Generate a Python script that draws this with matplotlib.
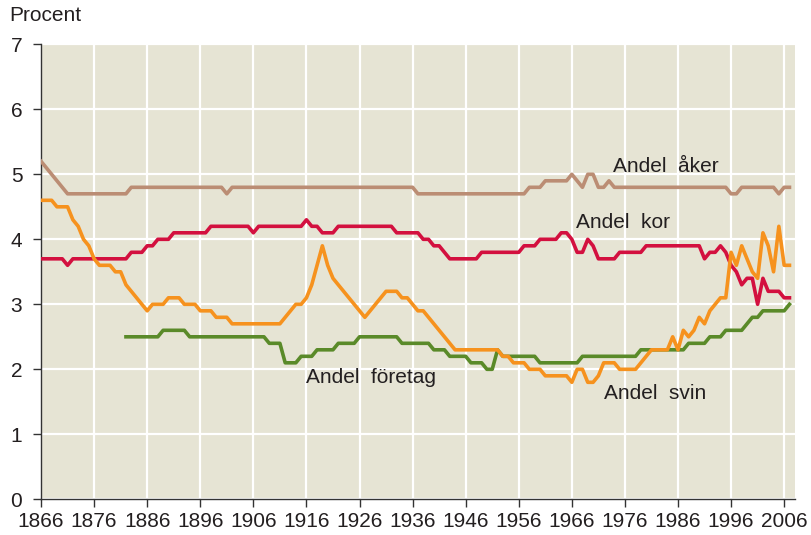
import numpy as np
import matplotlib
matplotlib.use("Agg")
import matplotlib.pyplot as plt

plt.rcParams['font.family'] = ['Liberation Sans', 'DejaVu Sans']

# yearly values, 1866-2007
years = np.arange(1866, 2008)

andel_aker = [
    5.2, 5.1, 5.0, 4.9, 4.8, 4.7, 4.7, 4.7, 4.7, 4.7,
    4.7, 4.7, 4.7, 4.7, 4.7, 4.7, 4.7, 4.8, 4.8, 4.8,
    4.8, 4.8, 4.8, 4.8, 4.8, 4.8, 4.8, 4.8, 4.8, 4.8,
    4.8, 4.8, 4.8, 4.8, 4.8, 4.7, 4.8, 4.8, 4.8, 4.8,
    4.8, 4.8, 4.8, 4.8, 4.8, 4.8, 4.8, 4.8, 4.8, 4.8,
    4.8, 4.8, 4.8, 4.8, 4.8, 4.8, 4.8, 4.8, 4.8, 4.8,
    4.8, 4.8, 4.8, 4.8, 4.8, 4.8, 4.8, 4.8, 4.8, 4.8,
    4.8, 4.7, 4.7, 4.7, 4.7, 4.7, 4.7, 4.7, 4.7, 4.7,
    4.7, 4.7, 4.7, 4.7, 4.7, 4.7, 4.7, 4.7, 4.7, 4.7,
    4.7, 4.7, 4.8, 4.8, 4.8, 4.9, 4.9, 4.9, 4.9, 4.9,
    5.0, 4.9, 4.8, 5.0, 5.0, 4.8, 4.8, 4.9, 4.8, 4.8,
    4.8, 4.8, 4.8, 4.8, 4.8, 4.8, 4.8, 4.8, 4.8, 4.8,
    4.8, 4.8, 4.8, 4.8, 4.8, 4.8, 4.8, 4.8, 4.8, 4.8,
    4.7, 4.7, 4.8, 4.8, 4.8, 4.8, 4.8, 4.8, 4.8, 4.7,
    4.8, 4.8,
]

andel_kor = [
    3.7, 3.7, 3.7, 3.7, 3.7, 3.6, 3.7, 3.7, 3.7, 3.7,
    3.7, 3.7, 3.7, 3.7, 3.7, 3.7, 3.7, 3.8, 3.8, 3.8,
    3.9, 3.9, 4.0, 4.0, 4.0, 4.1, 4.1, 4.1, 4.1, 4.1,
    4.1, 4.1, 4.2, 4.2, 4.2, 4.2, 4.2, 4.2, 4.2, 4.2,
    4.1, 4.2, 4.2, 4.2, 4.2, 4.2, 4.2, 4.2, 4.2, 4.2,
    4.3, 4.2, 4.2, 4.1, 4.1, 4.1, 4.2, 4.2, 4.2, 4.2,
    4.2, 4.2, 4.2, 4.2, 4.2, 4.2, 4.2, 4.1, 4.1, 4.1,
    4.1, 4.1, 4.0, 4.0, 3.9, 3.9, 3.8, 3.7, 3.7, 3.7,
    3.7, 3.7, 3.7, 3.8, 3.8, 3.8, 3.8, 3.8, 3.8, 3.8,
    3.8, 3.9, 3.9, 3.9, 4.0, 4.0, 4.0, 4.0, 4.1, 4.1,
    4.0, 3.8, 3.8, 4.0, 3.9, 3.7, 3.7, 3.7, 3.7, 3.8,
    3.8, 3.8, 3.8, 3.8, 3.9, 3.9, 3.9, 3.9, 3.9, 3.9,
    3.9, 3.9, 3.9, 3.9, 3.9, 3.7, 3.8, 3.8, 3.9, 3.8,
    3.6, 3.5, 3.3, 3.4, 3.4, 3.0, 3.4, 3.2, 3.2, 3.2,
    3.1, 3.1,
]

andel_svin = [
    4.6, 4.6, 4.6, 4.5, 4.5, 4.5, 4.3, 4.2, 4.0, 3.9,
    3.7, 3.6, 3.6, 3.6, 3.5, 3.5, 3.3, 3.2, 3.1, 3.0,
    2.9, 3.0, 3.0, 3.0, 3.1, 3.1, 3.1, 3.0, 3.0, 3.0,
    2.9, 2.9, 2.9, 2.8, 2.8, 2.8, 2.7, 2.7, 2.7, 2.7,
    2.7, 2.7, 2.7, 2.7, 2.7, 2.7, 2.8, 2.9, 3.0, 3.0,
    3.1, 3.3, 3.6, 3.9, 3.6, 3.4, 3.3, 3.2, 3.1, 3.0,
    2.9, 2.8, 2.9, 3.0, 3.1, 3.2, 3.2, 3.2, 3.1, 3.1,
    3.0, 2.9, 2.9, 2.8, 2.7, 2.6, 2.5, 2.4, 2.3, 2.3,
    2.3, 2.3, 2.3, 2.3, 2.3, 2.3, 2.3, 2.2, 2.2, 2.1,
    2.1, 2.1, 2.0, 2.0, 2.0, 1.9, 1.9, 1.9, 1.9, 1.9,
    1.8, 2.0, 2.0, 1.8, 1.8, 1.9, 2.1, 2.1, 2.1, 2.0,
    2.0, 2.0, 2.0, 2.1, 2.2, 2.3, 2.3, 2.3, 2.3, 2.5,
    2.3, 2.6, 2.5, 2.6, 2.8, 2.7, 2.9, 3.0, 3.1, 3.1,
    3.8, 3.6, 3.9, 3.7, 3.5, 3.4, 4.1, 3.9, 3.5, 4.2,
    3.6, 3.6,
]

# företag series starts in 1882
years_foretag = np.arange(1882, 2008)
andel_foretag = [
    2.5, 2.5, 2.5, 2.5, 2.5, 2.5, 2.5, 2.6, 2.6, 2.6,
    2.6, 2.6, 2.5, 2.5, 2.5, 2.5, 2.5, 2.5, 2.5, 2.5,
    2.5, 2.5, 2.5, 2.5, 2.5, 2.5, 2.5, 2.4, 2.4, 2.4,
    2.1, 2.1, 2.1, 2.2, 2.2, 2.2, 2.3, 2.3, 2.3, 2.3,
    2.4, 2.4, 2.4, 2.4, 2.5, 2.5, 2.5, 2.5, 2.5, 2.5,
    2.5, 2.5, 2.4, 2.4, 2.4, 2.4, 2.4, 2.4, 2.3, 2.3,
    2.3, 2.2, 2.2, 2.2, 2.2, 2.1, 2.1, 2.1, 2.0, 2.0,
    2.3, 2.2, 2.2, 2.2, 2.2, 2.2, 2.2, 2.2, 2.1, 2.1,
    2.1, 2.1, 2.1, 2.1, 2.1, 2.1, 2.2, 2.2, 2.2, 2.2,
    2.2, 2.2, 2.2, 2.2, 2.2, 2.2, 2.2, 2.3, 2.3, 2.3,
    2.3, 2.3, 2.3, 2.3, 2.3, 2.3, 2.4, 2.4, 2.4, 2.4,
    2.5, 2.5, 2.5, 2.6, 2.6, 2.6, 2.6, 2.7, 2.8, 2.8,
    2.9, 2.9, 2.9, 2.9, 2.9, 3.0,
]

xticks = list(range(1866, 2007, 10))
text_color = '#231f20'

fig = plt.figure(figsize=(8.11, 5.35), dpi=100)
ax = fig.add_axes([0.0506, 0.0667, 0.9294, 0.8505])
ax.set_facecolor('#e6e4d4')

lw = 2.6
ax.plot(years, andel_aker, color='#bb8d74', lw=lw, zorder=3)
ax.plot(years, andel_kor, color='#d3103f', lw=lw, zorder=3)
ax.plot(years_foretag, andel_foretag, color='#5a8a29', lw=lw, zorder=3)
ax.plot(years, andel_svin, color='#f6921e', lw=lw, zorder=4)

ax.set_xlim(1866, 2008)
ax.set_ylim(0, 7)
ax.set_xticks(xticks)
ax.set_yticks(range(0, 8))
ax.grid(True, color='white', lw=1.6, zorder=1)
ax.set_axisbelow(True)

for side in ['top', 'right']:
    ax.spines[side].set_visible(False)
for side in ['left', 'bottom']:
    ax.spines[side].set_color('#333333')
    ax.spines[side].set_linewidth(1.0)
ax.tick_params(axis='both', direction='out', length=6, width=1.0,
               color='#333333', labelcolor=text_color, labelsize=15)
ax.tick_params(axis='y', pad=7.5)
ax.tick_params(axis='x', pad=3)

fig.text(0.012, 0.988, 'Procent', fontsize=15, color=text_color,
         ha='left', va='top')

lab = dict(fontsize=15, color=text_color, ha='left', va='baseline')
ax.text(1973.7, 5.03, 'Andel  åker', **lab)
ax.text(1966.75, 4.17, 'Andel  kor', **lab)
ax.text(1916.0, 1.79, 'Andel  företag', **lab)
ax.text(1972.0, 1.54, 'Andel  svin', **lab)

fig.savefig('out.png', dpi=100)
